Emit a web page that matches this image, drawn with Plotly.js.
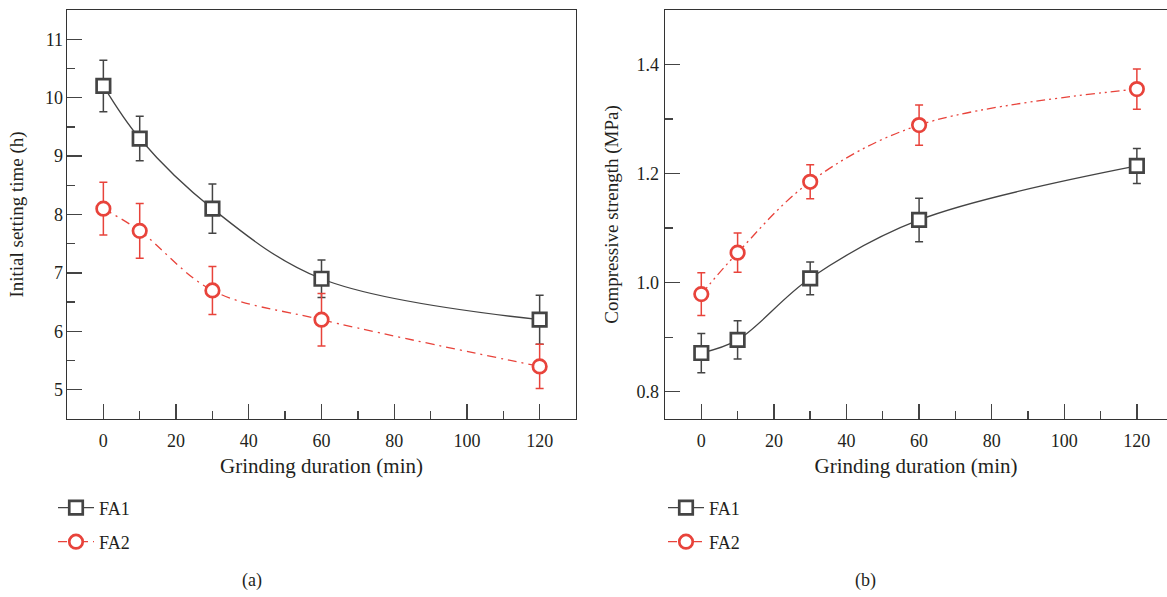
<!DOCTYPE html>
<html>
<head>
<meta charset="utf-8">
<script src="https://cdn.plot.ly/plotly-3.0.1.min.js"></script>
<style>
  html, body { margin: 0; padding: 0; background: #fff; }
  #chart { width: 1167px; height: 597px; }
</style>
</head>
<body>
<div id="chart"></div>
<script>
// Grinding durations (min)
const grindMin = [0, 10, 30, 60, 120];

// (a) Initial setting time (h)
const settingFA1 = [10.2, 9.3, 8.1, 6.9, 6.2];
const settingFA1Err = [0.44, 0.38, 0.42, 0.32, 0.42];
const settingFA2 = [8.1, 7.72, 6.7, 6.2, 5.4];
const settingFA2Err = [0.45, 0.47, 0.41, 0.45, 0.38];

// (b) Compressive strength (MPa)
const strengthFA1 = [0.871, 0.895, 1.008, 1.115, 1.214];
const strengthFA1Err = [0.036, 0.035, 0.030, 0.040, 0.032];
const strengthFA2 = [0.979, 1.055, 1.185, 1.289, 1.355];
const strengthFA2Err = [0.039, 0.036, 0.031, 0.037, 0.037];

const seriesNames = ['FA1', 'FA2'];
const panelLabels = ['(a)', '(b)'];

const GRAY = '#444444';
const RED = '#e8433b';
const INK = '#231f20';
const FONT = 'Liberation Serif, Times New Roman, serif';

function series(x, y, err, name, color, symbol, dash, xa, ya, legend) {
  return {
    type: 'scatter', mode: 'lines+markers', name: name,
    x: x, y: y, xaxis: xa, yaxis: ya, legend: legend,
    line: { color: color, width: 1.3, shape: 'spline', smoothing: 1, dash: dash },
    marker: { symbol: symbol, size: 13.5, color: '#ffffff', line: { color: color, width: 2.7 } },
    error_y: { type: 'data', array: err, visible: true, color: color, thickness: 1.5, width: 4 },
    hoverinfo: 'skip'
  };
}

const dashA = '9px,5px,2px,5px';
const dashB = '9px,4px,2px,4px,2px,4px';

const traces = [
  series(grindMin, settingFA1, settingFA1Err, seriesNames[0], GRAY, 'square', 'solid', 'x', 'y', 'legend'),
  series(grindMin, settingFA2, settingFA2Err, seriesNames[1], RED, 'circle', dashA, 'x', 'y', 'legend2'),
  series(grindMin, strengthFA1, strengthFA1Err, seriesNames[0], GRAY, 'square', 'solid', 'x2', 'y2', 'legend3'),
  series(grindMin, strengthFA2, strengthFA2Err, seriesNames[1], RED, 'circle', dashB, 'x2', 'y2', 'legend4')
];

const W = 1167, H = 597;
const px = v => v / W;
const py = v => 1 - v / H;

function xAxis(domain, range, mirror, anchor) {
  return {
    domain: domain, range: range, anchor: anchor,
    showgrid: false, zeroline: false,
    showline: true, linecolor: '#333', linewidth: 1.4, mirror: mirror,
    ticks: 'inside', ticklen: 15, tickwidth: 1.4, tickcolor: '#444',
    tick0: 0, dtick: 20,
    minor: { dtick: 10, ticks: 'inside', ticklen: 8, tickwidth: 1.4, tickcolor: '#444' },
    tickfont: { family: FONT, size: 18, color: INK },
    ticklabelstandoff: 5,
    title: { text: 'Grinding duration (min)', font: { family: FONT, size: 21, color: INK }, standoff: 8 }
  };
}

function yAxis(domain, range, dtick, minorDtick, mirror, anchor, title, fmt, labelOff, titleOff) {
  return {
    domain: domain, range: range, anchor: anchor,
    showgrid: false, zeroline: false,
    showline: true, linecolor: '#333', linewidth: 1.4, mirror: mirror,
    ticks: 'inside', ticklen: 15, tickwidth: 1.4, tickcolor: '#444',
    dtick: dtick, tickformat: fmt,
    minor: { dtick: minorDtick, ticks: 'inside', ticklen: 8, tickwidth: 1.4, tickcolor: '#444' },
    tickfont: { family: FONT, size: 18, color: INK },
    ticklabelstandoff: labelOff,
    title: { text: title, font: { family: FONT, size: 19, color: INK }, standoff: titleOff }
  };
}

function legendAt(x, y) {
  return {
    x: x, y: y, xanchor: 'left', yanchor: 'middle',
    bgcolor: 'rgba(0,0,0,0)', borderwidth: 0,
    font: { family: FONT, size: 18, color: INK },
    itemwidth: 36
  };
}

const yDomain = [py(419), py(10)];

const layout = {
  width: W, height: H,
  margin: { l: 0, r: 0, t: 0, b: 0 },
  paper_bgcolor: '#ffffff', plot_bgcolor: '#ffffff',
  showlegend: true,
  xaxis: xAxis([px(67), px(576)], [-10, 130], true, 'y'),
  yaxis: yAxis(yDomain, [4.5, 11.5], 1, 0.5, true, 'x', 'Initial setting time (h)', '', -1, 16),
  xaxis2: xAxis([px(665), 1], [-10, 128.3], true, 'y2'),
  yaxis2: yAxis(yDomain, [0.75, 1.5], 0.2, 0.1, false, 'x2', 'Compressive strength (MPa)', '.1f', 1, 13),
  legend: legendAt(px(53), py(508)),
  legend2: legendAt(px(53), py(542)),
  legend3: legendAt(px(663), py(508)),
  legend4: legendAt(px(663), py(542)),
  annotations: [
    { text: panelLabels[0], x: px(252), y: py(580), xref: 'paper', yref: 'paper',
      xanchor: 'center', yanchor: 'middle', showarrow: false,
      font: { family: FONT, size: 18, color: INK } },
    { text: panelLabels[1], x: px(865), y: py(580), xref: 'paper', yref: 'paper',
      xanchor: 'center', yanchor: 'middle', showarrow: false,
      font: { family: FONT, size: 18, color: INK } }
  ]
};

Plotly.newPlot('chart', traces, layout, { staticPlot: true, displayModeBar: false });
</script>
</body>
</html>
